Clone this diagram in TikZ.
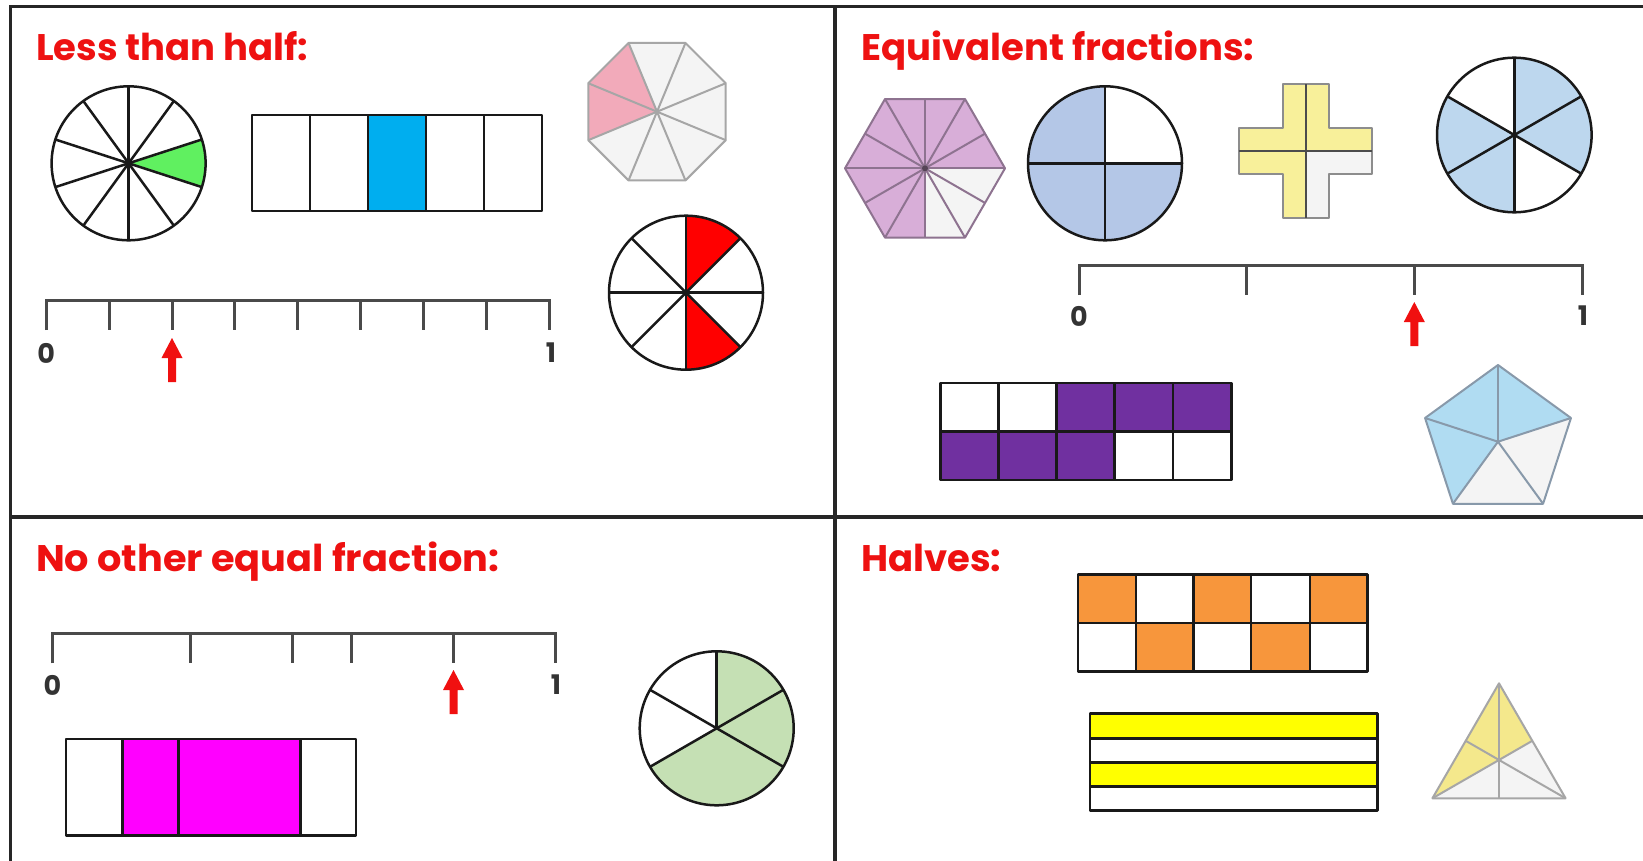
\documentclass[tikz,border=0pt]{standalone}
\usepackage{fontspec}
\newfontfamily\titlefont{Poppins}
\definecolor{titlered}{HTML}{EE1111}
\definecolor{arrowred}{HTML}{F01010}
\definecolor{numgray}{HTML}{333333}
\definecolor{linegray}{HTML}{4A4A4A}
\definecolor{softgray}{HTML}{A6A6A6}
\definecolor{palefill}{HTML}{F4F4F4}
\definecolor{brightgreen}{HTML}{60F060}
\definecolor{cellblue}{HTML}{00AEEF}
\definecolor{pinkfill}{HTML}{F2AABA}
\definecolor{hexpurple}{HTML}{D8AED8}
\definecolor{hexstroke}{HTML}{8E7390}
\definecolor{quarterblue}{HTML}{B4C7E7}
\definecolor{crossyellow}{HTML}{F8F09A}
\definecolor{sixblue}{HTML}{BDD7EE}
\definecolor{deeppurple}{HTML}{7030A0}
\definecolor{pentblue}{HTML}{B0DCF2}
\definecolor{pentstroke}{HTML}{8899AA}
\definecolor{magentafill}{HTML}{FF00FF}
\definecolor{sagegreen}{HTML}{C5E0B4}
\definecolor{orangefill}{HTML}{F7963C}
\definecolor{stripeyellow}{HTML}{FFFF00}
\definecolor{triyellow}{HTML}{F4E88C}
\newcommand\pieslice[6]{\fill[#6] (#1,#2) -- +({-(#4)}:#3) arc[start angle={-(#4)}, end angle={-(#5)}, radius=#3] -- cycle;}
\newcommand\spoke[5]{\draw[#5] (#1,#2) -- +({-(#4)}:#3);}
\newcommand\upmark[2]{\fill[redarrow] (#1,#2) -- ++(10.5,20) -- ++(-6.5,0) -- ++(0,24) -- ++(-8,0) -- ++(0,-24) -- ++(-6.5,0) -- cycle;}
\tikzset{
 frame/.style={line width=3.5pt, draw=black!85},
 outline/.style={line width=2.5pt, draw=black!90, line join=round},
 softline/.style={line width=2pt, draw=softgray, line join=round},
 nline/.style={line width=3pt, draw=linegray},
 titletext/.style={text=titlered, font=\titlefont\bfseries\fontsize{37}{44}\selectfont, inner sep=0pt, anchor=base west},
 numtext/.style={text=numgray, font=\titlefont\bfseries\fontsize{27}{31}\selectfont, inner sep=0pt},
 redarrow/.style={fill=arrowred, draw=none},
}
\begin{document}
\begin{tikzpicture}[x=1pt,y=-1pt]
\useasboundingbox (0,0) rectangle (1643,861);
\fill[white] (0,0) rectangle (1643,861);

% ---------- frame ----------
\draw[frame] (10.5,861) -- (10.5,6.5) -- (1643,6.5);
\draw[frame] (835,6.5) -- (835,861);
\draw[frame] (10.5,517) -- (1643,517);

% ---------- titles ----------
\node[titletext] (t1) at (36,61) {Less than half:};
\node[titletext] (t2) at (861,61) {Equivalent fractions:};
\node[titletext] (t3) at (36,571) {\scalebox{1.035}[1]{No other equal fraction:}};
\node[titletext] (t4) at (861,571) {Halves:};

% ========== TOP LEFT ==========
% ten-part circle
\pieslice{128.6}{163.3}{77}{-18}{18}{brightgreen}
\foreach \a in {18,54,...,342} {\spoke{128.6}{163.3}{77}{\a}{outline}}
\draw[outline] (128.6,163.3) circle[radius=77];

% five-part bar
\fill[cellblue] (368,115) rectangle (426,211);
\draw[outline] (252,115) rectangle (542,211);
\foreach \x in {310,368,426,484} \draw[outline] (\x,115) -- (\x,211);

% octagon
\begin{scope}[shift={(657,111.7)}]
  \fill[palefill] (-22.5:74.4) \foreach \a in {67.5,112.5,...,337.5} { -- (-\a:74.4)} -- cycle;
  \fill[pinkfill] (0,0) -- (-112.5:74.4) -- (-157.5:74.4) -- (-202.5:74.4) -- cycle;
  \foreach \a in {22.5,67.5,...,337.5} \draw[softline] (0,0) -- (-\a:74.4);
  \draw[softline] (-22.5:74.4) \foreach \a in {67.5,112.5,...,337.5} { -- (-\a:74.4)} -- cycle;
\end{scope}

% eight-part circle
\pieslice{686}{292.7}{77}{45}{90}{red}
\pieslice{686}{292.7}{77}{270}{315}{red}
\foreach \a in {0,45,...,315} {\spoke{686}{292.7}{77}{\a}{outline}}
\draw[outline] (686,292.7) circle[radius=77];

% number line eighths
\draw[nline] (46.2,330) -- (46.2,300) -- (549.4,300) -- (549.4,330);
\foreach \i in {1,...,7} \draw[nline] ({46.2+62.9*\i},300) -- ++(0,30);
\node[numtext] (n1a) at (46.2,353) {0};
\node[numtext] (n1b) at (551,353) {1};
\upmark{172}{338}

% ========== TOP RIGHT ==========
% hexagon twelfths
\begin{scope}[shift={(925,168.3)}]
  \fill[hexpurple] (0:80) \foreach \a in {60,120,...,300} { -- (-\a:80)} -- cycle;
  \fill[palefill] (0,0) -- (0:80) -- (60:80) -- (90:69.28) -- cycle;
  \foreach \a in {0,60,...,300} \draw[line width=2pt, draw=hexstroke] (0,0) -- (\a:80);
  \foreach \a in {30,90,...,330} \draw[line width=2pt, draw=hexstroke] (0,0) -- (\a:69.28);
  \draw[line width=2pt, draw=hexstroke, line join=round] (0:80) \foreach \a in {60,120,...,300} { -- (\a:80)} -- cycle;
  \fill[hexstroke!60!black] (0,0) circle[radius=3];
\end{scope}

% quarter circle
\pieslice{1105}{163.3}{77}{90}{360}{quarterblue}
\draw[outline] (1028,163.3) -- (1182,163.3);
\draw[outline] (1105,86.3) -- (1105,240.3);
\draw[outline] (1105,163.3) circle[radius=77];

% cross
\begin{scope}[shift={(1305.5,151)}]
  \fill[crossyellow] (-23,-66.7) -- (23,-66.7) -- (23,-23) -- (66.7,-23) -- (66.7,23) -- (23,23) -- (23,66.7) -- (-23,66.7) -- (-23,23) -- (-66.7,23) -- (-66.7,-23) -- (-23,-23) -- cycle;
  \fill[palefill] (0,0) -- (66.7,0) -- (66.7,23) -- (23,23) -- (23,66.7) -- (0,66.7) -- cycle;
  \draw[line width=2pt, draw=softgray!85!black, line join=round] (-23,-66.7) -- (23,-66.7) -- (23,-23) -- (66.7,-23) -- (66.7,23) -- (23,23) -- (23,66.7) -- (-23,66.7) -- (-23,23) -- (-66.7,23) -- (-66.7,-23) -- (-23,-23) -- cycle;
  \draw[line width=2pt, draw=black!70] (0,-66.7) -- (0,66.7);
  \draw[line width=2pt, draw=black!70] (-66.7,0) -- (66.7,0);
\end{scope}

% sixths circle
\pieslice{1514.3}{135}{77.3}{-30}{90}{sixblue}
\pieslice{1514.3}{135}{77.3}{150}{270}{sixblue}
\foreach \a in {30,90,...,330} {\spoke{1514.3}{135}{77.3}{\a}{outline}}
\draw[outline] (1514.3,135) circle[radius=77.3];

% number line thirds
\draw[nline] (1079,295) -- (1079,265) -- (1582,265) -- (1582,295);
\draw[nline] (1246.7,265) -- ++(0,30);
\draw[nline] (1414.3,265) -- ++(0,30);
\node[numtext] (n2a) at (1079,316) {0};
\node[numtext] (n2b) at (1583,316) {1};
\upmark{1414.3}{302}

% purple grid
\fill[deeppurple] (1056.4,383) rectangle (1231.7,431.5);
\fill[deeppurple] (940.3,431.5) rectangle (1114.7,480);
\draw[outline] (940.3,383) rectangle (1231.7,480);
\draw[outline] (940.3,431.5) -- (1231.7,431.5);
\foreach \x in {998.6,1056.4,1114.7,1173} \draw[outline] (\x,383) -- (\x,480);

% pentagon
\begin{scope}[shift={(1498,441.7)}]
  \fill[palefill] (-90:76.7) \foreach \a in {162,234,306,18} { -- (-\a:76.7)} -- cycle;
  \fill[pentblue] (0,0) -- (-18:76.7) -- (-90:76.7) -- (-162:76.7) -- (-234:76.7) -- cycle;
  \foreach \a in {18,90,162,234,306} \draw[line width=2pt, draw=pentstroke] (0,0) -- (-\a:76.7);
  \draw[line width=2pt, draw=pentstroke, line join=round] (-90:76.7) \foreach \a in {162,234,306,18} { -- (-\a:76.7)} -- cycle;
\end{scope}

% ========== BOTTOM LEFT ==========
% number line uneven
\draw[nline] (52.4,663.3) -- (52.4,633.3) -- (555,633.3) -- (555,663.3);
\foreach \x in {190.2,292.8,351.3,453.5} \draw[nline] (\x,633.3) -- ++(0,30);
\node[numtext] (n3a) at (52.4,685) {0};
\node[numtext] (n3b) at (556,685) {1};
\upmark{453.5}{670}

% magenta bar
\fill[magentafill] (122.5,739) rectangle (300.4,835.7);
\draw[outline] (65.8,739) rectangle (355.9,835.7);
\foreach \x in {122.5,178.7,300.4} \draw[outline] (\x,739) -- (\x,835.7);

% thirds/sixths circle
\pieslice{716.7}{728.3}{77}{-150}{90}{sagegreen}
\foreach \a in {90,30,-30,-150,150} {\spoke{716.7}{728.3}{77}{\a}{outline}}
\draw[outline] (716.7,728.3) circle[radius=77];

% ========== BOTTOM RIGHT ==========
% orange checkerboard
\fill[orangefill] (1078,574.3) rectangle (1136,622.8);
\fill[orangefill] (1193.3,574.3) rectangle (1251.2,622.8);
\fill[orangefill] (1310,574.3) rectangle (1367.4,622.8);
\fill[orangefill] (1136,622.8) rectangle (1193.3,671.7);
\fill[orangefill] (1251.2,622.8) rectangle (1310,671.7);
\draw[outline] (1078,574.3) rectangle (1367.4,671.7);
\draw[outline] (1078,622.8) -- (1367.4,622.8);
\foreach \x in {1136,1193.3,1251.2,1310} \draw[outline] (\x,574.3) -- (\x,671.7);

% yellow stripes
\fill[stripeyellow] (1090,713.3) rectangle (1377.6,738.3);
\fill[stripeyellow] (1090,762.3) rectangle (1377.6,786.7);
\draw[outline] (1090,713.3) rectangle (1377.6,810.7);
\foreach \y in {738.3,762.3,786.7} \draw[outline] (1090,\y) -- (1377.6,\y);

% triangle sixths
\coordinate (TA) at (1499,683.3);
\coordinate (TB) at (1432.4,798.3);
\coordinate (TC) at (1565.6,798.3);
\coordinate (TG) at (1499,759.97);
\coordinate (Mab) at (1465.7,740.8);
\coordinate (Mac) at (1532.3,740.8);
\coordinate (Mbc) at (1499,798.3);
\fill[palefill] (TA) -- (TB) -- (TC) -- cycle;
\fill[triyellow] (TA) -- (Mac) -- (TG) -- (TB) -- (Mab) -- cycle;
\draw[softline] (TA) -- (Mbc);
\draw[softline] (TB) -- (Mac);
\draw[softline] (TC) -- (Mab);
\draw[softline] (TA) -- (TB) -- (TC) -- cycle;
\end{tikzpicture}
\end{document}
